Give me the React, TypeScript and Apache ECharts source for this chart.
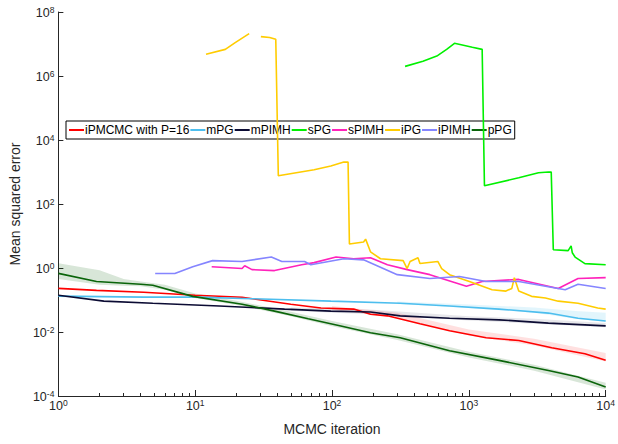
import React, { useEffect, useRef } from 'react';
import * as echarts from 'echarts';

// ---------- tick values ----------
const yTickValues = [1e-4, 1e-2, 1, 1e2, 1e4, 1e6, 1e8];
const xTickValues = [1, 10, 100, 1000, 10000];
const xMinorTickValues = [
  2, 3, 4, 5, 6, 7, 8, 9,
  20, 30, 40, 50, 60, 70, 80, 90,
  200, 300, 400, 500, 600, 700, 800, 900,
  2000, 3000, 4000, 5000, 6000, 7000, 8000, 9000,
];

// ---------- series names ----------
const seriesNames = ['iPMCMC with P=16', 'mPG', 'mPIMH', 'sPG', 'sPIMH', 'iPG', 'iPIMH', 'pPG'];
const seriesColors = ['#FF0000', '#4DBEEE', '#0B0B33', '#00F000', '#FF22BB', '#FFCC00', '#8585FF', '#0A640A'];

// ---------- series values: [MCMC iteration, mean squared error] ----------
const iPMCMC: [number, number][] = [
  [1, 0.231], [1.9, 0.2], [4.2, 0.174], [10, 0.141], [22, 0.122], [50, 0.074], [83, 0.056],
  [144, 0.052], [191, 0.036], [254, 0.032], [439, 0.018], [723, 0.011], [1337, 0.0066],
  [2316, 0.0054], [4033, 0.0032], [7050, 0.0021], [10000, 0.0013],
];
const mPG: [number, number][] = [
  [1, 0.132], [4.2, 0.123], [10, 0.123], [26, 0.11], [98, 0.092], [315, 0.079], [723, 0.065],
  [1660, 0.052], [3813, 0.039], [6280, 0.027], [10000, 0.022],
];
const mPIMH: [number, number][] = [
  [1, 0.141], [2.15, 0.092], [4.9, 0.079], [15, 0.065], [45, 0.052], [98, 0.045], [191, 0.042],
  [315, 0.032], [723, 0.027], [1660, 0.024], [3813, 0.019], [10000, 0.0155],
];
const sPG: [number | null, number | null][] = [
  [342, 2.0e6], [462, 2.9e6], [583, 4.2e6], [688, 6.8e6], [785, 1.05e7], [1060, 7.9e6], [1251, 6.8e6],
  [1300, 370], [2316, 660], [3228, 950], [3813, 1000], [4000, 990],
  [4142, 3.7], [5318, 3.5], [5589, 4.9], [5700, 3.0], [5975, 2.2], [7050, 1.37], [10000, 1.26],
];
const sPIMH: [number, number][] = [
  [13.2, 1.1], [22, 0.96], [23, 1.18], [26, 0.89], [38, 0.83], [60, 1.27], [74, 1.47], [107, 2.2],
  [144, 1.95], [191, 2.1], [254, 1.27], [354, 0.89], [519, 0.62], [960, 0.27], [1251, 0.38],
  [2316, 0.44], [4500, 0.23], [6280, 0.47], [10000, 0.5],
];
const iPG: [number, number | null][] = [
  [12, 4.8e6], [16.6, 6.8e6], [19.6, 1.1e7], [24.8, 2.1e7], [27, null],
  [30.2, 1.7e7], [35, 1.6e7], [38.8, 1.4e7], [40.5, 760], [74, 1175], [98, 1550], [122, 2040],
  [131, 2040], [134, 5.6], [170, 6.5], [176, 8], [191, 3.2], [226, 1.95], [331, 1.7], [354, 0.96],
  [372, 1.6], [425, 2.1], [439, 1.38], [593, 1.6], [633, 0.96], [723, 0.62], [1009, 0.38],
  [1478, 0.21], [1866, 0.19], [2061, 0.23], [2150, 0.5], [2316, 0.19], [2873, 0.13],
  [3629, 0.115], [4500, 0.092], [6280, 0.079], [8750, 0.056], [10000, 0.052],
];
const iPIMH: [number, number][] = [
  [5.1, 0.67], [7.1, 0.67], [9.6, 1.1], [13.4, 1.7], [22, 1.6], [36, 2.2], [43, 1.6], [63, 1.6],
  [70, 1.27], [122, 1.95], [170, 1.8], [300, 0.62], [519, 0.47], [854, 0.54], [1337, 0.38],
  [2316, 0.38], [5058, 0.21], [6280, 0.31], [10000, 0.23],
];
const pPG: [number, number][] = [
  [1, 0.68], [1.9, 0.38], [4, 0.31], [4.9, 0.29], [8.5, 0.15], [9.6, 0.13], [22, 0.074],
  [38, 0.045], [67, 0.026], [116, 0.0155], [191, 0.0095], [315, 0.0066], [723, 0.0026],
  [1660, 0.0013], [3813, 0.00063], [6280, 0.00039], [10000, 0.00019],
];
const seriesData = [iPMCMC, mPG, mPIMH, sPG, sPIMH, iPG, iPIMH, pPG];

// ---------- shaded spread bands: iteration, lower, upper ----------
const pPGBandIter = [1, 2, 3, 4, 6, 10, 20, 50, 100, 300, 1000, 3000, 10000];
const pPGBandLo = [0.45, 0.3, 0.28, 0.27, 0.21, 0.115, 0.07, 0.031, 0.015, 0.0056, 0.0016, 0.00062, 0.00016];
const pPGBandHi = [1.4, 0.85, 0.45, 0.38, 0.3, 0.16, 0.095, 0.043, 0.022, 0.0085, 0.0024, 0.00095, 0.00026];

const iPMCMCBandIter = [100, 300, 1000, 3000, 10000];
const iPMCMCBandLo = [0.05, 0.028, 0.0078, 0.0038, 0.0012];
const iPMCMCBandHi = [0.065, 0.04, 0.012, 0.0062, 0.0022];

const mPGBandIter = [300, 1000, 3000, 6000, 10000];
const mPGBandLo = [0.075, 0.056, 0.04, 0.026, 0.021];
const mPGBandHi = [0.09, 0.072, 0.058, 0.045, 0.04];

const mPIMHBandIter = [50, 100, 200, 1000, 3000, 10000];
const mPIMHBandLo = [0.046, 0.04, 0.036, 0.023, 0.018, 0.014];
const mPIMHBandHi = [0.058, 0.055, 0.05, 0.031, 0.026, 0.019];

const FONT = 'Liberation Sans, Arial, Helvetica, sans-serif';
const AXIS_COLOR = '#262626';

function bandSeries(iter: number[], lo: number[], hi: number[], fill: string) {
  return {
    type: 'custom',
    silent: true,
    z: 1,
    data: iter.map((it, i) => [it, lo[i], hi[i]]),
    encode: { x: 0, y: [1, 2] },
    renderItem: (params: any, api: any) => {
      if (params.dataIndex !== 0) return null;
      const pts: number[][] = [];
      for (let i = 0; i < iter.length; i++) pts.push(api.coord([iter[i], hi[i]]));
      for (let i = iter.length - 1; i >= 0; i--) pts.push(api.coord([iter[i], lo[i]]));
      return { type: 'polygon', shape: { points: pts }, style: { fill, stroke: 'none' } };
    },
  };
}

function powLabel(v: number) {
  return `{b|10}{s|${Math.round(Math.log10(v))}}`;
}

const richLabel = {
  b: { fontSize: 12.5, fontFamily: FONT, color: AXIS_COLOR, lineHeight: 14, padding: [6, 0, 0, 0], verticalAlign: 'bottom' },
  s: { fontSize: 8.5, fontFamily: FONT, color: AXIS_COLOR, lineHeight: 10, verticalAlign: 'top' },
};

export default function App() {
  const ref = useRef<HTMLDivElement>(null);
  useEffect(() => {
    if (!ref.current) return;
    const chart = echarts.init(ref.current, undefined, { renderer: 'svg' });
    const lineSeries = seriesNames.map((name, i) => ({
      name,
      type: 'line',
      data: seriesData[i],
      showSymbol: false,
      symbol: 'none',
      connectNulls: false,
      z: 3 + i,
      lineStyle: { color: seriesColors[i], width: 1.6 },
      itemStyle: { color: seriesColors[i] },
    }));
    chart.setOption({
      animation: false,
      backgroundColor: '#ffffff',
      textStyle: { fontFamily: FONT },
      grid: { left: 54, right: 10, top: 7, bottom: 48, containLabel: false },
      legend: {
        data: seriesNames,
        left: 66,
        top: 121,
        orient: 'horizontal',
        icon: 'rect',
        itemWidth: 15,
        itemHeight: 2,
        itemGap: 1,
        padding: [3, 3, 3, 3],
        backgroundColor: '#ffffff',
        borderColor: '#000000',
        borderWidth: 1,
        borderRadius: 0,
        selectedMode: false,
        textStyle: { fontSize: 12, fontFamily: FONT, color: '#000000', padding: [0, 0, 0, -4] },
      },
      xAxis: [
        {
          type: 'log',
          min: 1,
          max: 10000,
          name: 'MCMC iteration',
          nameLocation: 'middle',
          nameGap: 26,
          nameTextStyle: { fontSize: 14, fontFamily: FONT, color: AXIS_COLOR },
          axisLine: { show: true, lineStyle: { color: AXIS_COLOR, width: 1 } },
          axisTick: { show: true, inside: true, length: 6, customValues: xTickValues, lineStyle: { color: AXIS_COLOR } },
          axisLabel: { customValues: xTickValues, formatter: powLabel, rich: richLabel, margin: 2 },
          splitLine: { show: false },
        },
        {
          type: 'log',
          min: 1,
          max: 10000,
          position: 'bottom',
          axisLine: { show: false },
          axisTick: { show: true, inside: true, length: 3, customValues: xMinorTickValues, lineStyle: { color: AXIS_COLOR } },
          axisLabel: { show: false },
          splitLine: { show: false },
        },
      ],
      yAxis: {
        type: 'log',
        min: 1e-4,
        max: 1e8,
        name: 'Mean squared error',
        nameLocation: 'middle',
        nameGap: 29,
        nameTextStyle: { fontSize: 14, fontFamily: FONT, color: AXIS_COLOR },
        axisLine: { show: true, lineStyle: { color: AXIS_COLOR, width: 1 } },
        axisTick: { show: true, inside: true, length: 5, customValues: yTickValues, lineStyle: { color: AXIS_COLOR } },
        axisLabel: { customValues: yTickValues, formatter: powLabel, rich: richLabel, margin: 4 },
        splitLine: { show: false },
      },
      series: [
        bandSeries(pPGBandIter, pPGBandLo, pPGBandHi, 'rgba(10,100,10,0.16)'),
        bandSeries(iPMCMCBandIter, iPMCMCBandLo, iPMCMCBandHi, 'rgba(255,0,0,0.12)'),
        bandSeries(mPGBandIter, mPGBandLo, mPGBandHi, 'rgba(77,190,238,0.16)'),
        bandSeries(mPIMHBandIter, mPIMHBandLo, mPIMHBandHi, 'rgba(20,20,60,0.10)'),
        ...lineSeries,
      ],
    });
    return () => chart.dispose();
  }, []);
  return (
    <div
      ref={ref}
      style={{ position: 'absolute', left: 0, top: 0, width: 618, height: 444, background: '#fff' }}
    />
  );
}
